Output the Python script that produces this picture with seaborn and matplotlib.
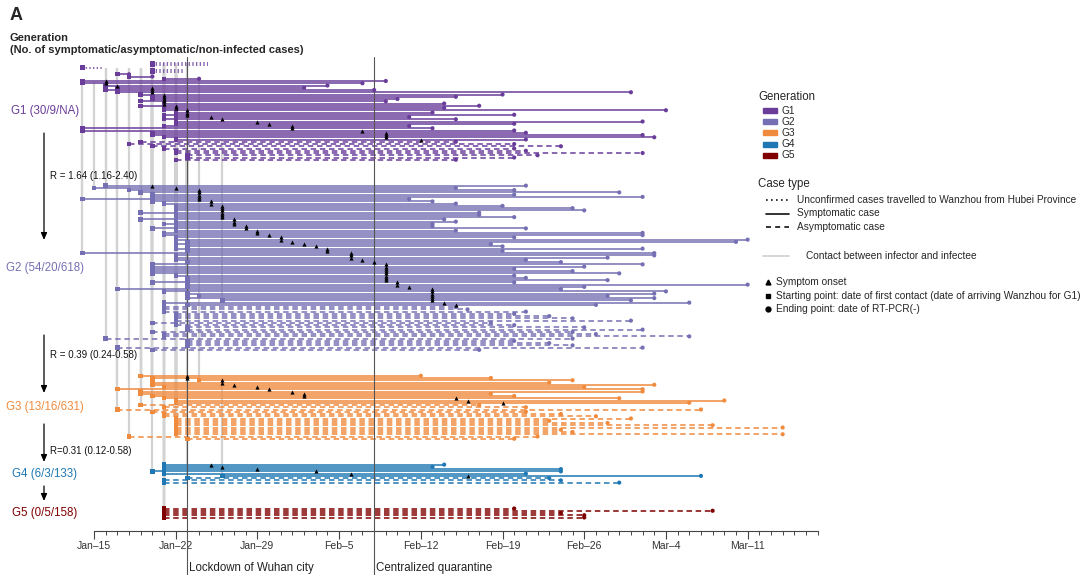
import numpy as np
import pandas as pd
import matplotlib
matplotlib.use('Agg')
import matplotlib.pyplot as plt
import matplotlib.transforms as mtransforms
from matplotlib.patches import Rectangle
from matplotlib.lines import Line2D
import seaborn as sns

nan = np.nan

# Eje temporal: dias contados desde Jan-15 (dia 0)
tick_days = [0, 7, 14, 21, 28, 35, 42, 49, 56]
tick_labels = ['Jan–15', 'Jan–22', 'Jan–29', 'Feb–5', 'Feb–12', 'Feb–19', 'Feb–26', 'Mar–4', 'Mar–11']
lockdown_day = 8
quarantine_day = 24

gen_names = ['G1', 'G2', 'G3', 'G4', 'G5']
gen_labels = ['G1 (30/9/NA)', 'G2 (54/20/618)', 'G3 (13/16/631)', 'G4 (6/3/133)', 'G5 (0/5/158)']
gen_colors = ['#6A3D9A', '#7570B3', '#F08A3C', '#1F78B4', '#800000']
r_labels = ['R = 1.64 (1.16-2.40)', 'R = 0.39 (0.24-0.58)', 'R=0.31 (0.12-0.58)']

# Casos no confirmados llegados desde Hubei
hb_start = [5, 5, -1, 5, 5]
hb_end = [9.8, 9.8, 0.8, 7.8, 7.8]

# G1 (src = indice del caso de Hubei, -1 = sin contacto)
g1_sym_start = [2, 3, 6, -1, -1, 1, 2, 1, 2, 4, 5, 5, 4, 6, 4, 6, 6, 7, 6, 7, 6, 7, 7, 6, -1, -1, 5, 5, 6, 7]
g1_sym_onset = [nan, nan, nan, 1, 1, 2, 5, 5, 5, 6, 6, 6, 6, 6, 7, 7, 8, 8, 8, 10, 11, 14, 15, 17, 17, 23, 25, 25, 25, 28]
g1_sym_end = [3, 5, 9, 25, 23, 20, 18, 24, 46, 35, 31, 26, 25, 30, 33, 30, 49, 29, 36, 27, 31, 47, 36, 27, 29, 36, 37, 47, 48, 37]
g1_sym_src = [2, 2, 0, -1, -1, 2, 2, 2, 2, 2, 0, 1, 2, 0, 2, 1, 3, 4, 0, 1, 3, 4, 0, 1, -1, -1, 3, 4, 0, 1]
g1_asy_start = [4, 3, 5, 6, 7, 7, 8, 8, 7]
g1_asy_end = [31, 36, 40, 36, 37, 47, 38, 36, 31]
g1_asy_src = [2, 2, 0, 1, 3, 4, 0, 1, 3]

# G2 (src = indice dentro de G1)
g2_sym_start = [1, 0, 3, 4, 5, 5, -1, 5, 6, 7, 7, 7, 4, 7, 7, 4, 7, 6, 7, 5, 7, 6, 6, 7, 7, 8, 7, 8, 7, 8,
                -1, 7, 7, 7, 8, 5, 5, 5, 5, 5, 7, 8, 8, 5, 8, 8, 2, 6, 8, 9, 8, 11, 6, 8]
g2_sym_onset = [5, 7, 9, 9, 9, 9, 9, 10, 10, 11, 11, 11, 11, 11, 11, 12, 12, 12, 13, 13, 14, 14, 15, 16, 16, 17, 18, 19,
                20, 20, 22, 22, 22, 23, 24, 25, 25, 25, 25, 25, 25, 25, 25, 26, 26, 27, 29, 29, 29, 29, 29, 29, 30, 31]
g2_sym_end = [37, 31, 36, 45, 36, 47, 27, 29, 31, 35, 41, 42, 33, 33, 36, 30, 31, 29, 29, 37, 31, 47, 47, 36, 56, 55, 34,
              35, 47, 35, 48, 48, 44, 37, 40, 47, 42, 36, 41, 45, 36, 37, 44, 36, 56, 42, 40, 49, 48, 44, 48, 46, 51, 43]
g2_sym_src = [5, 3, 1, 9, 10, 11, 4, 26, 13, 17, 17, 19, 12, 20, 21, 14, 29, 15, 17, 27, 19, 16, 18, 20, 21, 36, 34,
              37, 35, 36, 24, 17, 19, 22, 36, 10, 11, 26, 27, 32, 17, 37, 36, 10, 37, 36, 6, 13, 36, 2, 37, 29, 15, 36]
g2_asy_start = [6, 6, 6, 7, 7, 7, 7, 5, 7, 8, 8, 5, 6, 6, 1, 8, 8, 8, 2, 5]
g2_asy_end = [31, 32, 37, 36, 39, 41, 46, 34, 36, 42, 47, 41, 43, 51, 41, 36, 39, 41, 47, 33]
g2_asy_src = [13, 15, 16, 17, 19, 20, 21, 10, 22, 36, 37, 11, 18, 13, 7, 36, 37, 36, 8, 26]

# G3 (src = indice dentro de G2)
g3_sym_start = [4, 5, 9, 5, 5, 6, 2, 4, 4, 5, 6, 7, 7]
g3_sym_onset = [8, 8, 11, 11, 12, 14, 15, 17, 18, 18, 31, 32, 35]
g3_sym_end = [28, 34, 41, 39, 48, 42, 47, 47, 34, 36, 45, 54, 51]
g3_sym_src = [3, 35, 49, 36, 73, 47, 46, 12, 15, 61, 66, 57, 58]
g3_asy_start = [4, 6, 2, 5, 6, 6, 7, 7, 7, 7, 7, 7, 7, 7, 3, 8]
g3_asy_end = [33, 37, 52, 37, 40, 43, 46, 39, 44, 53, 59, 40, 41, 59, 38, 36]
g3_asy_src = [15, 54, 72, 65, 55, 56, 59, 60, 62, 31, 32, 33, 40, 57, 2, 63]

# G4 (src = indice dentro de G3)
g4_sym_start = [6, 6, 6, 5, 6, 11]
g4_sym_onset = [10, 11, 14, 19, 22, 32]
g4_sym_end = [30, 29, 40, 40, 37, 52]
g4_sym_src = [5, 10, 14, 1, 17, 2]
g4_asy_start = [8, 6, 6]
g4_asy_end = [39, 40, 45]
g4_asy_src = [28, 18, 5]

# G5 (src = indice dentro de G4)
g5_asy_start = [6, 6, 6, 6, 6]
g5_asy_end = [36, 53, 40, 42, 42]
g5_asy_src = [0, 1, 2, 4, 7]

# Construir tabla de casos
rows = []


def add_rows(gen, kind, start, end, src, base, onset=None):
    for i in range(len(start)):
        rows.append({'gen': gen, 'kind': kind, 'start': start[i], 'end': end[i],
                     'onset': nan if onset is None else onset[i],
                     'src': base + src[i] if (src is not None and src[i] >= 0) else -1})


b_hb = len(rows)
add_rows('G1', 'U', hb_start, hb_end, None, 0)
b_g1 = len(rows)
add_rows('G1', 'S', g1_sym_start, g1_sym_end, g1_sym_src, b_hb, g1_sym_onset)
add_rows('G1', 'A', g1_asy_start, g1_asy_end, g1_asy_src, b_hb)
b_g2 = len(rows)
add_rows('G2', 'S', g2_sym_start, g2_sym_end, g2_sym_src, b_g1, g2_sym_onset)
add_rows('G2', 'A', g2_asy_start, g2_asy_end, g2_asy_src, b_g1)
b_g3 = len(rows)
add_rows('G3', 'S', g3_sym_start, g3_sym_end, g3_sym_src, b_g2, g3_sym_onset)
add_rows('G3', 'A', g3_asy_start, g3_asy_end, g3_asy_src, b_g2)
b_g4 = len(rows)
add_rows('G4', 'S', g4_sym_start, g4_sym_end, g4_sym_src, b_g3, g4_sym_onset)
add_rows('G4', 'A', g4_asy_start, g4_asy_end, g4_asy_src, b_g3)
add_rows('G5', 'A', g5_asy_start, g5_asy_end, g5_asy_src, b_g4)

df = pd.DataFrame(rows)

# Posicion vertical: una fila por caso, hueco entre generaciones
ys = []
y = 0.0
for i, g in enumerate(df['gen']):
    if i > 0:
        y += 1 if g == df['gen'][i - 1] else 11.5
    ys.append(y)
df['y'] = ys

pal = dict(zip(gen_names, gen_colors))

sns.set_theme(style='white')
plt.rcParams['font.family'] = ['Liberation Sans', 'DejaVu Sans']

fig = plt.figure(figsize=(10.8, 5.75), dpi=100)
ax = fig.add_axes([80 / 1080, 44 / 575, 740 / 1080, 476 / 575])

# Contactos infector -> infectado
c = df[df['src'] >= 0]
ax.vlines(c['start'], df.loc[c['src'], 'y'].values, c['y'], color='#d2d2d2', lw=1.6, zorder=1)

# Lineas de cada caso
styles = {'S': '-', 'A': (0, (3.6, 2.4)), 'U': (0, (0.9, 1.5))}
for (g, k), sub in df.groupby(['gen', 'kind']):
    ax.hlines(sub['y'], sub['start'], sub['end'], colors=pal[g], linestyles=styles[k], lw=1.1, zorder=2)

# Marcadores
sns.scatterplot(data=df, x='start', y='y', hue='gen', palette=pal, hue_order=gen_names, marker='s',
                s=10, linewidth=0, legend=False, ax=ax, zorder=4)
sns.scatterplot(data=df[df['kind'] != 'U'], x='end', y='y', hue='gen', palette=pal, hue_order=gen_names,
                marker='o', s=9, linewidth=0, legend=False, ax=ax, zorder=4)
sns.scatterplot(data=df.dropna(subset=['onset']), x='onset', y='y', color='black', marker='^',
                s=9, linewidth=0, legend=False, ax=ax, zorder=5)

ax.set_xlim(-1.2, 62.2)
ax.set_ylim(208, -3.56)
ax.set_xlabel('')
ax.set_ylabel('')
ax.set_yticks([])
ax.set_xticks(tick_days)
ax.set_xticklabels(tick_labels, fontsize=7.5, color='#333333')
ax.set_xticks(range(0, 63), minor=True)
ax.tick_params(axis='x', which='major', direction='out', length=5.5, width=0.8, color='#444444', pad=2, bottom=True)
ax.tick_params(axis='x', which='minor', direction='out', length=3, width=0.7, color='#444444', bottom=True)
for s in ['left', 'top', 'right']:
    ax.spines[s].set_visible(False)
ax.spines['bottom'].set_bounds(0, 62)
ax.spines['bottom'].set_color('#444444')
ax.spines['bottom'].set_linewidth(0.8)

# Lineas de eventos
for d, txt in [(lockdown_day, 'Lockdown of Wuhan city'), (quarantine_day, 'Centralized quarantine')]:
    ax.axvline(d, ymin=-0.092, ymax=0.996, color='#555555', lw=0.8, clip_on=False, zorder=3)
    ax.text(d + 0.15, -0.078, txt, transform=mtransforms.blended_transform_factory(ax.transData, ax.transAxes),
            ha='left', va='center', fontsize=8.3, color='#222222')

# Capa de anotaciones en pixeles
ov = fig.add_axes([0, 0, 1, 1], zorder=5)
ov.set_xlim(0, 1080)
ov.set_ylim(575, 0)
ov.axis('off')
ov.patch.set_alpha(0)

ov.text(10, 15, 'A', fontsize=13, fontweight='bold', va='center')
ov.text(10, 38, 'Generation', fontsize=8, fontweight='bold', va='center')
ov.text(10, 50, '(No. of symptomatic/asymptomatic/non-infected cases)', fontsize=8, fontweight='bold', va='center')

# Etiquetas de generacion
bt = mtransforms.blended_transform_factory(ov.transData, ax.transData)
for g, lab, col in zip(gen_names, gen_labels, gen_colors):
    yy = df.loc[df['gen'] == g, 'y']
    ov.text(45, (yy.min() + yy.max()) / 2, lab, transform=bt, ha='center', va='center', fontsize=8.3, color=col)

# Flechas y R
arrows = [(133, 240), (335, 393), (424, 462), (486, 501)]
for y0, y1 in arrows:
    ov.annotate('', xy=(44, y1), xytext=(44, y0),
                arrowprops=dict(arrowstyle='-|>,head_length=0.35,head_width=0.15', color='black', lw=0.9,
                                shrinkA=0, shrinkB=0))
for yy, txt in zip([176, 355, 451], r_labels):
    ov.text(50, yy, txt, fontsize=7, va='center', color='#111111')

# Leyenda
lx = 758
ov.text(lx, 97, 'Generation', fontsize=8.3, va='center')
for i, (g, col) in enumerate(zip(gen_names, gen_colors)):
    yy = 110.5 + 11.2 * i
    ov.add_patch(Rectangle((763, yy - 2.5), 14, 5, color=col))
    ov.text(782, yy, g, fontsize=7.3, va='center')

ov.text(lx, 184, 'Case type', fontsize=8.3, va='center')
case_items = [((0, (1, 2)), 200, 'Unconfirmed cases travelled to Wanzhou from Hubei Province'),
              ('-', 213.5, 'Symptomatic case'),
              ((0, (3, 2.5)), 227, 'Asymptomatic case')]
for ls, yy, txt in case_items:
    ov.add_line(Line2D([766, 789], [yy, yy], color='#111111', lw=1.2, linestyle=ls))
    ov.text(797, yy, txt, fontsize=7.3, va='center')

ov.add_line(Line2D([763, 789], [256, 256], color='#cfcfcf', lw=1.2))
ov.text(806, 256, 'Contact between infector and infectee', fontsize=7.3, va='center')

mk_items = [('^', 282, 'Symptom onset'),
            ('s', 296, 'Starting point: date of first contact (date of arriving Wanzhou for G1)'),
            ('o', 309, 'Ending point: date of RT-PCR(-)')]
for m, yy, txt in mk_items:
    ov.plot([768], [yy], marker=m, color='black', ms=3.5, linestyle='none')
    ov.text(776, yy, txt, fontsize=7.3, va='center')

fig.savefig('out.png', dpi=100)
